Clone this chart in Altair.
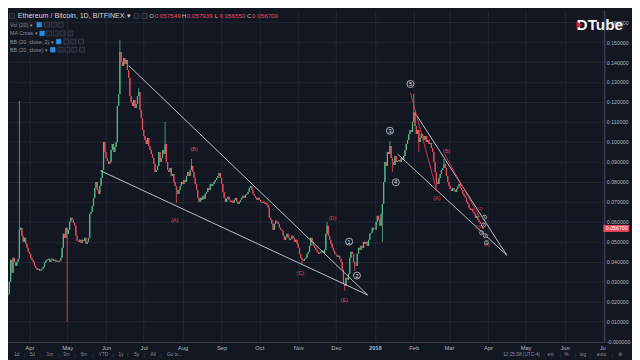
import altair as alt
import pandas as pd

# ---------------- colours ----------------
BG = "#131722"
UP = "#53b987"
DOWN = "#eb4d5c"
GRID = "#242833"
AXIS_TXT = "#b2b5be"
DIM_TXT = "#8a8d96"

# ---------------- daily closes (ETH/BTC, Bitfinex) ----------------
first_open = 0.0235
closes_2017_03 = [0.0240, 0.0300, 0.0410, 0.0345, 0.0420, 0.0400, 0.0380, 0.0400, 0.0415, 0.0560,
                  0.0570, 0.0530, 0.0500, 0.0520, 0.0490, 0.0470, 0.0450]
closes_2017_04 = [0.0440, 0.0420, 0.0410, 0.0400, 0.0380, 0.0370, 0.0360, 0.0365, 0.0355, 0.0360,
                  0.0365, 0.0375, 0.0395, 0.0405, 0.0410, 0.0415, 0.0400, 0.0410, 0.0415, 0.0405,
                  0.0410, 0.0400, 0.0405, 0.0400, 0.0405, 0.0420, 0.0470, 0.0540, 0.0520, 0.0570]
closes_2017_05 = [0.0540, 0.0560, 0.0600, 0.0620, 0.0610, 0.0595, 0.0580, 0.0530, 0.0505, 0.0500,
                  0.0510, 0.0495, 0.0510, 0.0505, 0.0520, 0.0490, 0.0500, 0.0520, 0.0640, 0.0650,
                  0.0680, 0.0720, 0.0770, 0.0800, 0.0760, 0.0740, 0.0780, 0.0820, 0.0860, 0.1000, 0.0950]
closes_2017_06 = [0.0920, 0.0905, 0.0890, 0.0900, 0.0960, 0.0990, 0.0950, 0.0975, 0.1000, 0.1180,
                  0.1240, 0.1450, 0.1400, 0.1380, 0.1420, 0.1390, 0.1410, 0.1360, 0.1320, 0.1230,
                  0.1200, 0.1180, 0.1210, 0.1170, 0.1190, 0.1230, 0.1250, 0.1160, 0.1120, 0.1060]
closes_2017_07 = [0.1030, 0.1010, 0.0990, 0.1020, 0.0980, 0.0960, 0.0940, 0.0920, 0.0890, 0.0850,
                  0.0860, 0.0880, 0.0950, 0.0900, 0.0920, 0.0960, 0.0940, 0.0990, 0.0900, 0.0860,
                  0.0850, 0.0870, 0.0830, 0.0840, 0.0800, 0.0780, 0.0760, 0.0740, 0.0760, 0.0780, 0.0800]
closes_2017_08 = [0.0790, 0.0810, 0.0800, 0.0830, 0.0850, 0.0830, 0.0860, 0.0880, 0.0850, 0.0820,
                  0.0790, 0.0760, 0.0720, 0.0700, 0.0720, 0.0710, 0.0730, 0.0715, 0.0740, 0.0750,
                  0.0770, 0.0760, 0.0790, 0.0780, 0.0790, 0.0800, 0.0810, 0.0820, 0.0830, 0.0845, 0.0820]
closes_2017_09 = [0.0790, 0.0750, 0.0720, 0.0700, 0.0715, 0.0725, 0.0710, 0.0700, 0.0705, 0.0695,
                  0.0710, 0.0720, 0.0700, 0.0690, 0.0700, 0.0710, 0.0720, 0.0730, 0.0720, 0.0735,
                  0.0740, 0.0750, 0.0770, 0.0780, 0.0760, 0.0740, 0.0730, 0.0720, 0.0710, 0.0720]
closes_2017_10 = [0.0710, 0.0700, 0.0695, 0.0700, 0.0690, 0.0695, 0.0685, 0.0670, 0.0620, 0.0610,
                  0.0590, 0.0560, 0.0590, 0.0605, 0.0600, 0.0590, 0.0570, 0.0560, 0.0555, 0.0530,
                  0.0510, 0.0525, 0.0540, 0.0520, 0.0510, 0.0515, 0.0530, 0.0520, 0.0500, 0.0510, 0.0490]
closes_2017_11 = [0.0470, 0.0440, 0.0420, 0.0410, 0.0405, 0.0415, 0.0420, 0.0440, 0.0450, 0.0480,
                  0.0520, 0.0500, 0.0480, 0.0470, 0.0460, 0.0450, 0.0440, 0.0445, 0.0450, 0.0455,
                  0.0445, 0.0460, 0.0540, 0.0580, 0.0530, 0.0510, 0.0490, 0.0470, 0.0455, 0.0440]
closes_2017_12 = [0.0435, 0.0425, 0.0430, 0.0415, 0.0400, 0.0360, 0.0290, 0.0280, 0.0320, 0.0310,
                  0.0340, 0.0420, 0.0450, 0.0440, 0.0400, 0.0385, 0.0380, 0.0440, 0.0470, 0.0460,
                  0.0480, 0.0470, 0.0500, 0.0490, 0.0500, 0.0480, 0.0510, 0.0540, 0.0545, 0.0570, 0.0560]
closes_2018_01 = [0.0560, 0.0600, 0.0630, 0.0610, 0.0580, 0.0640, 0.0690, 0.0800, 0.0900, 0.0880,
                  0.0950, 0.0940, 0.0980, 0.0920, 0.0900, 0.0885, 0.0930, 0.0900, 0.0905, 0.0910,
                  0.0900, 0.0920, 0.0910, 0.0930, 0.0960, 0.0990, 0.1010, 0.1040, 0.1060, 0.1050, 0.1100]
closes_2018_02 = [0.1150, 0.1080, 0.1040, 0.1060, 0.1000, 0.1020, 0.1040, 0.1030, 0.1010, 0.1030,
                  0.1000, 0.1010, 0.0990, 0.0995, 0.0970, 0.0950, 0.0900, 0.0850, 0.0800, 0.0790,
                  0.0820, 0.0840, 0.0860, 0.0870, 0.0890, 0.0870, 0.0830, 0.0800]
closes_2018_03 = [0.0780, 0.0765, 0.0755, 0.0770, 0.0760, 0.0750, 0.0765, 0.0780, 0.0790, 0.0770,
                  0.0760, 0.0740, 0.0730, 0.0720, 0.0700, 0.0690, 0.0670, 0.0660, 0.0665, 0.0650,
                  0.0640, 0.0620, 0.0630, 0.0610, 0.0600, 0.0590, 0.057549, 0.056700]

month_starts = ["2017-03-15", "2017-04-01", "2017-05-01", "2017-06-01", "2017-07-01", "2017-08-01",
                "2017-09-01", "2017-10-01", "2017-11-01", "2017-12-01", "2018-01-01", "2018-02-01",
                "2018-03-01"]
month_closes = [closes_2017_03, closes_2017_04, closes_2017_05, closes_2017_06, closes_2017_07,
                closes_2017_08, closes_2017_09, closes_2017_10, closes_2017_11, closes_2017_12,
                closes_2018_01, closes_2018_02, closes_2018_03]

# notable wicks
wick_high_dates = ["2017-03-24", "2017-06-12", "2017-06-27", "2017-07-18", "2017-08-08",
                   "2017-11-24", "2018-01-13", "2018-02-01", "2018-02-25", "2018-03-28"]
wick_high_vals = [0.1205, 0.1510, 0.1270, 0.1100, 0.0915, 0.0600, 0.1005, 0.1240, 0.0915, 0.057939]
wick_low_dates = ["2017-05-01", "2017-07-27", "2017-11-04", "2017-12-08", "2017-12-16",
                  "2018-01-07", "2018-01-15", "2018-02-05", "2018-02-19", "2018-03-28"]
wick_low_vals = [0.0100, 0.0695, 0.0390, 0.0255, 0.0355, 0.0500, 0.0850, 0.0950, 0.0775, 0.056550]

# trend lines (wedges) and wave lines
trend_start = ["2017-06-19T02:00", "2017-05-27T14:00", "2018-02-02T05:00", "2018-01-19T05:00"]
trend_start_v = [0.1382, 0.0856, 0.1144, 0.0939]
trend_end = ["2017-12-26T06:00", "2017-12-26T06:00", "2018-04-16T02:00", "2018-04-16T02:00"]
trend_end_v = [0.0234, 0.0234, 0.0433, 0.0433]
wave_start = ["2018-01-29T08:00", "2018-02-25T12:00"]
wave_start_v = [0.1246, 0.0939]
wave_end = ["2018-02-19T08:00", "2018-03-25T10:00"]
wave_end_v = [0.0754, 0.0623]

# wave labels
red_labels = ["(A)", "(B)", "(C)", "(D)", "(E)", "(A)", "(B)", "(C)", "(D)", "(E)"]
red_dates = ["2017-07-25T14:00", "2017-08-10T02:00", "2017-11-02T17:00", "2017-11-28T08:00",
             "2017-12-07T14:00", "2018-02-19T08:00", "2018-02-27T00:00", "2018-03-25T10:00",
             "2018-03-23T22:00", "2018-03-31T04:00"]
red_vals = [0.0608, 0.0963, 0.0346, 0.0618, 0.0209, 0.0720, 0.0954, 0.0665, 0.0574, 0.0486]
red_sizes = [5.5, 5.5, 5.5, 5.5, 5.5, 5.5, 5.5, 4.2, 4.2, 4.2]
circ_labels = ["1", "2", "3", "4", "5", "1", "2", "3", "4", "5"]
circ_dates = ["2017-12-11T12:00", "2017-12-17T17:00", "2018-01-13T00:00", "2018-01-17T17:00",
              "2018-01-29T08:00", "2018-03-29T08:00", "2018-03-28T12:00", "2018-03-27T00:00",
              "2018-03-30T00:00", "2018-03-30T20:00"]
circ_vals = [0.0501, 0.0331, 0.1056, 0.0798, 0.1290, 0.0623, 0.0584, 0.0545, 0.0530, 0.0496]
circ_big = [1, 1, 1, 1, 1, 0, 0, 0, 0, 0]

# y / x ticks
y_ticks = [i / 100 for i in range(0, 17)]
x_ticks = ["2017-04-01", "2017-05-01", "2017-06-01", "2017-07-01", "2017-08-01", "2017-09-01",
           "2017-10-01", "2017-11-01", "2017-12-01", "2018-01-01", "2018-02-01", "2018-03-01",
           "2018-04-01", "2018-05-01", "2018-06-01", "2018-07-01"]

# header / UI texts (reference pixel positions)
title_text = "Ethereum / Bitcoin, 1D, BITFINEX \u25be"
ohlc_letters = ["O", "H", "L", "C"]
ohlc_letter_x = [147.5, 180.5, 214, 247.5]
ohlc_values = ["0.057549", "0.057939", "0.056550", "0.056700"]
ohlc_value_x = [150.5, 183.5, 217, 250.5]
ind_names = ["Vol (20) \u25be", "MA Cross \u25be", "BB (20, close, 2) \u25be", "BB (20, close) \u25be"]
ind_y = [15, 24, 32.5, 41]
blue_icon_x = [32, 35, 52, 46]
gray_icon_x = [[40, 47, 54], [42, 49, 56, 64], [60, 67, 75], [54, 61, 68, 76]]
tool_left = ["1d", "5d", "1m", "3m", "6m", "YTD", "1y", "5y", "All", "Go to..."]
tool_left_x = [9, 25, 43, 60, 78, 98, 116, 132, 149, 171]
tool_left_sep = [17, 33, 52, 69, 87, 108, 123, 140, 157]
tool_right = ["12:25:38 (UTC-4)", "ext", "%", "log", "auto", "\u2699"]
tool_right_x = [527, 557, 573, 590, 609, 628]
tool_right_sep = [550, 567, 582, 598, 620]

# ---------------- layout ----------------
W, H = 604, 336
PAD_R, PAD_B = 28, 16
sx, sy = W / 612, H / 344


def px(X):
    return X * sx if X <= 612 else W + (X - 612)


def py(Y):
    return Y * sy if Y <= 344 else H + (Y - 344)


def ms(s):
    return int(pd.Timestamp(s, tz="UTC").value // 10**6)


X0, X1 = ms("2017-03-14T22:20"), ms("2018-07-02T17:17")
Y0, Y1 = -0.000146, 0.16594

# ---------------- build candle table ----------------
rows = []
prev = first_open
for start, vals in zip(month_starts, month_closes):
    for i, c in enumerate(vals):
        d = pd.Timestamp(start, tz="UTC") + pd.Timedelta(days=i)
        o = prev
        rows.append(dict(day=d.strftime("%Y-%m-%d"), t=int(d.value // 10**6), open=o, close=c,
                         high=max(o, c), low=min(o, c), dir="up" if c >= o else "down"))
        prev = c
candles = pd.DataFrame(rows)
for d, v in zip(wick_high_dates, wick_high_vals):
    m = candles["day"] == d
    candles.loc[m, "high"] = candles.loc[m, "high"].clip(lower=v)
for d, v in zip(wick_low_dates, wick_low_vals):
    m = candles["day"] == d
    candles.loc[m, "low"] = candles.loc[m, "low"].clip(upper=v)

x_axis = alt.Axis(
    values=[ms(s) for s in x_ticks], grid=True, gridColor=GRID, gridWidth=1,
    domainColor="#3a3e4a", ticks=False, labelPadding=3, labelFontSize=5.8,
    labelColor=AXIS_TXT, labelFont="Liberation Sans", labelOverlap=False, labelBound=False,
    labelFlush=False, title=None,
    labelFontWeight={"condition": {"test": "utcmonth(datum.value) == 0", "value": "bold"}, "value": "normal"},
    labelExpr="utcmonth(datum.value) == 0 ? utcFormat(datum.value, '%Y') : "
              "(utcyear(datum.value) == 2018 && utcmonth(datum.value) == 6 ? 'Ju' : utcFormat(datum.value, '%b'))",
)
y_axis = alt.Axis(
    orient="right", values=y_ticks, grid=True, gridColor=GRID, gridWidth=1,
    domainColor="#4a4e5a", ticks=False, labelPadding=2, labelFontSize=5.3,
    labelColor=AXIS_TXT, labelFont="Liberation Sans", labelOverlap=False, labelBound=False,
    labelFlush=False, labelSeparation=0, title=None,
    labelExpr="datum.value == 0 ? '-0.000000' : format(datum.value, '.6f')",
)

color_enc = alt.Color("dir:N", scale=alt.Scale(domain=["up", "down"], range=[UP, DOWN]), legend=None)

wicks = alt.Chart(candles).mark_rule(strokeWidth=0.8).encode(
    x=alt.X("t:T", scale=alt.Scale(type="utc", domain=[X0, X1]), axis=x_axis),
    y=alt.Y("low:Q", scale=alt.Scale(domain=[Y0, Y1], nice=False, zero=False), axis=y_axis),
    y2="high:Q",
    color=color_enc,
)
XT = lambda f: alt.X(f, axis=x_axis)
YQ = lambda f: alt.Y(f, axis=y_axis)

bodies = alt.Chart(candles).mark_rule(strokeWidth=1.25).encode(
    x=XT("t:T"), y=YQ("open:Q"), y2="close:Q", color=color_enc
)

trend_df = pd.DataFrame(dict(t1=[ms(s) for s in trend_start], v1=trend_start_v,
                             t2=[ms(s) for s in trend_end], v2=trend_end_v))
trends = alt.Chart(trend_df).mark_rule(color="#cfd1d6", strokeWidth=0.9).encode(
    x=XT("t1:T"), x2="t2:T", y=YQ("v1:Q"), y2="v2:Q")
wave_df = pd.DataFrame(dict(t1=[ms(s) for s in wave_start], v1=wave_start_v,
                            t2=[ms(s) for s in wave_end], v2=wave_end_v))
waves = alt.Chart(wave_df).mark_rule(color="#e0384a", strokeWidth=0.9).encode(
    x=XT("t1:T"), x2="t2:T", y=YQ("v1:Q"), y2="v2:Q")

red_df = pd.DataFrame(dict(t=[ms(s) for s in red_dates], v=red_vals, label=red_labels, fs=red_sizes))
red_txt = alt.Chart(red_df).mark_text(color="#e04458", font="Liberation Sans").encode(
    x=XT("t:T"), y=YQ("v:Q"), text="label:N",
    size=alt.Size("fs:Q", scale=None, legend=None))

circ_df = pd.DataFrame(dict(t=[ms(s) for s in circ_dates], v=circ_vals, label=circ_labels, big=circ_big))
circ_big_df = circ_df[circ_df["big"] == 1]
circ_small_df = circ_df[circ_df["big"] == 0]
circ_pts = alt.Chart(circ_big_df).mark_point(shape="circle", filled=True, fill=BG, stroke="#d8d9dd",
                                            strokeWidth=0.8, size=50, opacity=1).encode(
    x=XT("t:T"), y=YQ("v:Q"))
circ_txt = alt.Chart(circ_big_df).mark_text(color="#e8e9ec", fontSize=5.5, font="Liberation Sans").encode(
    x=XT("t:T"), y=YQ("v:Q"), text="label:N")
circ_pts_s = alt.Chart(circ_small_df).mark_point(shape="circle", filled=True, fill=BG, stroke="#d8d9dd",
                                                strokeWidth=0.6, size=18, opacity=1).encode(
    x=XT("t:T"), y=YQ("v:Q"))
circ_txt_s = alt.Chart(circ_small_df).mark_text(color="#e8e9ec", fontSize=3.6, font="Liberation Sans").encode(
    x=XT("t:T"), y=YQ("v:Q"), text="label:N")

# current price tag on the price scale
LAST = 0.0567
tag_df = pd.DataFrame(dict(x1=[W - 1], x2=[W + 25], vt=[LAST + 0.00175], vb=[LAST - 0.00175],
                           v=[LAST], label=["0.056700"], xt=[W + 1.5]))
tag_rect = alt.Chart(tag_df).mark_rect(color="#e8485a").encode(
    x=alt.X("x1:Q", scale=None, axis=None), x2="x2:Q", y=YQ("vt:Q"), y2="vb:Q")
tag_txt = alt.Chart(tag_df).mark_text(color="white", fontSize=5.3, align="left",
                                      font="Liberation Sans").encode(
    x=alt.X("xt:Q", scale=None, axis=None), y=YQ("v:Q"), text="label:N")


def ui_text(labels, xs, ys, color, size, align="left", weight="normal"):
    df = pd.DataFrame(dict(label=labels, px=[px(x) for x in xs], py=[py(y) for y in ys]))
    return alt.Chart(df).mark_text(color=color, fontSize=size, align=align, baseline="middle",
                                   font="Liberation Sans", fontWeight=weight).encode(
        x=alt.X("px:Q", scale=None, axis=None),
        y=alt.Y("py:Q", scale=None, axis=None),
        text="label:N")


def ui_squares(xs, ys, fill, stroke, size):
    df = pd.DataFrame(dict(px=[px(x) for x in xs], py=[py(y) for y in ys]))
    return alt.Chart(df).mark_square(fill=fill, stroke=stroke, strokeWidth=0.6, size=size,
                                     opacity=1, filled=True).encode(
        x=alt.X("px:Q", scale=None, axis=None),
        y=alt.Y("py:Q", scale=None, axis=None))


title_layer = ui_text([title_text], [10], [6], "#d1d4dc", 7.2)
ohlc_l = ui_text(ohlc_letters, ohlc_letter_x, [6] * 4, "#b2b5be", 6.3, align="center")
ohlc_v = ui_text(ohlc_values, ohlc_value_x, [6] * 4, "#e84a5c", 6.3)
ind_layer = ui_text(ind_names, [2] * 4, ind_y, DIM_TXT, 5.4)
gx, gy = [], []
for row_x, yy in zip(gray_icon_x, ind_y):
    gx += row_x
    gy += [yy] * len(row_x)
gray_icons = ui_squares(gx + [132, 140, 4], gy + [6, 6, 6], "#1c202b", "#4a4f5c", 26)
blue_icons = ui_squares(blue_icon_x, ind_y, "#2a8ee6", "#2a8ee6", 22)
tool_l = ui_text(tool_left, tool_left_x, [357] * len(tool_left), DIM_TXT, 4.8, align="center")
tool_ls = ui_text(["|"] * len(tool_left_sep), tool_left_sep, [357] * len(tool_left_sep), "#3a3e4a", 6, align="center")
tool_r = ui_text(tool_right, tool_right_x, [357] * len(tool_right), DIM_TXT, 4.8, align="center")
tool_rs = ui_text(["|"] * len(tool_right_sep), tool_right_sep, [357] * len(tool_right_sep), "#3a3e4a", 6, align="center")

# DTube watermark
logo_txt = ui_text(["DTube"], [583.5], [15.5], "#f2f2f2", 15.5, weight="bold")
logo_tri_df = pd.DataFrame(dict(px=[px(586.5)], py=[py(15.3)]))
logo_tri = alt.Chart(logo_tri_df).mark_point(shape="triangle-right", filled=True, fill="#e4202e",
                                             size=48, opacity=1, strokeWidth=0).encode(
    x=alt.X("px:Q", scale=None, axis=None), y=alt.Y("py:Q", scale=None, axis=None))

chart = alt.layer(
    wicks, bodies, trends, waves, red_txt, circ_pts, circ_txt, circ_pts_s, circ_txt_s,
    tag_rect, tag_txt, title_layer, ohlc_l, ohlc_v, ind_layer, gray_icons, blue_icons,
    tool_l, tool_ls, tool_r, tool_rs, logo_txt, logo_tri,
).properties(
    width=W, height=H,
    autosize=alt.AutoSizeParams(type="none"),
    padding={"left": 0, "top": 0, "right": PAD_R, "bottom": PAD_B},
    background=BG,
).configure_view(stroke=None).configure_axis(labelOverlap=False)

chart.save("out.html", embed_options={"renderer": "svg", "actions": False})
